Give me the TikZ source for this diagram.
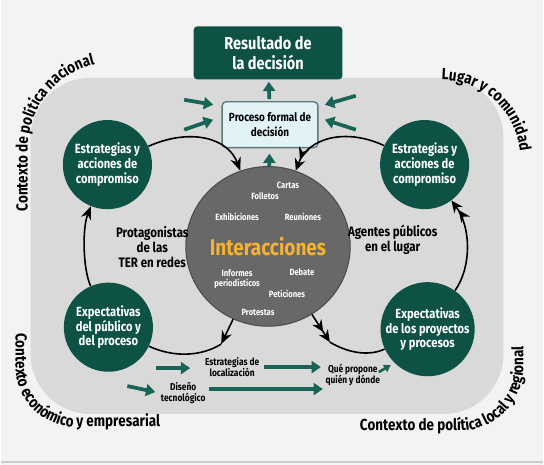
\documentclass[tikz,border=0pt]{standalone}
\usepackage{fontspec}
\setmainfont{Fira Sans}[FakeStretch=0.84]
\usetikzlibrary{arrows.meta,shapes.geometric,decorations.text}
\definecolor{darkteal}{RGB}{14,82,70}
\definecolor{arrteal}{RGB}{24,100,86}
\definecolor{bggray}{RGB}{243,243,243}
\definecolor{panelgray}{RGB}{217,217,217}
\definecolor{intergray}{RGB}{104,104,104}
\definecolor{procfill}{RGB}{226,243,247}
\definecolor{procline}{RGB}{95,122,118}
\definecolor{gold}{RGB}{243,178,52}
\tikzset{
  circ/.style={circle, fill=darkteal, text=white, minimum size=67pt, inner sep=0pt,
    align=center, font=\fontsize{10}{11}\selectfont\bfseries},
  blk/.style={line width=1.2pt, -{Stealth[length=10pt,width=8pt]}},
  blkdbl/.style={line width=1.2pt, -{Stealth[length=9pt,width=8pt]Stealth[length=9pt,width=8pt]}},
  tarr/.style={draw=arrteal, line width=2.8pt, -{Triangle[length=7pt,width=9pt]}},
  lbl/.style={align=center, font=\fontsize{10.3}{11.25}\selectfont\bfseries},
  smalltxt/.style={text=white, align=center, font=\fontsize{6.8}{7.6}\selectfont\bfseries},
  botlbl/.style={align=center, font=\fontsize{7.5}{8.5}\selectfont\bfseries},
  ctx/.style={decorate, decoration={text along path, text align=left,
    text={|\fontsize{12}{14}\selectfont\bfseries|#1}}}
}
\begin{document}
\begin{tikzpicture}[x=0.75pt,y=-0.75pt]
% background and panel
\fill[bggray] (0,0) rectangle (544,466);
\draw[black!20, line width=1pt] (0,463) -- (544,463);
\fill[panelgray, rounded corners=45pt] (30,78) rectangle (504,415);

% context labels round the panel
\path[ctx={Contexto de política nacional}] (27,212) -- (27,150) .. controls (27,101) and (66,62) .. (115,62);
\path[ctx={Lugar y comunidad}] (442,80) .. controls (486,80) and (521,116) .. (521,160);
\path[ctx={Contexto económico y empresarial}] (15,334) -- (15,368) .. controls (15,401) and (42,428) .. (75,428) -- (200,428);
\path[ctx={Contexto de política local y regional}] (360,432) -- (460,432) .. controls (495,432) and (524,403) .. (524,368) -- (524,300);

% decision boxes
\node[fill=darkteal, text=white, rounded corners=3pt, minimum width=112pt, minimum height=40pt,
  align=center, font=\fontsize{13}{15}\selectfont\bfseries] (res) at (268,53) {Resultado de\\la decisión};
\node[draw=procline, line width=1pt, fill=procfill, rounded corners=3pt, minimum width=72pt,
  minimum height=34.5pt, align=center, font=\fontsize{8.9}{11}\selectfont\bfseries] (proc) at (270,125) {Proceso formal de\\decisión};

% interactions
\node[ellipse, fill=intergray, draw=black!70, line width=0.8pt, minimum width=108pt, minimum height=120pt,
  inner sep=0pt, text=gold, font=\fontsize{17}{20}\selectfont\bfseries] (inter) at (268,247) {Interacciones};
\node[smalltxt] (cartas) at (288,186) {Cartas};
\node[smalltxt] (folletos) at (265,197) {Folletos};
\node[smalltxt] (exhib) at (237,217) {Exhibiciones};
\node[smalltxt] (reun) at (303,217) {Reuniones};
\node[smalltxt] (inform) at (237,280) {Informes\\periodísticos};
\node[smalltxt] (debate) at (302,273) {Debate};
\node[smalltxt] (petic) at (287,295) {Peticiones};
\node[smalltxt] (protes) at (258,313) {Protestas};

% actors
\node[circ] (etl) at (107,165) {Estrategias y\\acciones de\\compromiso};
\node[circ] (etr) at (425,165) {Estrategias y\\acciones de\\compromiso};
\node[circ] (ebl) at (108,328) {Expectativas\\del público y\\del proceso};
\node[circ] (ebr) at (428,330) {Expectativas\\de los proyectos\\y procesos};
\node[lbl] (prot) at (152,248) {Protagonistas\\de las\\TER en redes};
\node[lbl] (agen) at (393,240) {Agentes públicos\\en el lugar};

% siting
\node[botlbl] (loc) at (232,368) {Estrategias de\\localización};
\node[botlbl] (que) at (353,376) {Qué propone\\quién y dónde};
\node[botlbl] (dis) at (183,394) {Diseño\\tecnológico};

% teal arrows
\draw[tarr, shorten >=1.5pt, shorten <=1.5pt] (proc) -- (res);
\draw[tarr, shorten >=4pt] (inter) -- (proc);
\draw[tarr] (184,100) -- (213,105);
\draw[tarr] (184,130) -- (213,120);
\draw[tarr] (356,96) -- (325,105);
\draw[tarr] (356,130) -- (325,120);
\draw[tarr] (156,369) -- (190,369);
\draw[tarr] (loc.east) -- (loc.east -| que.west);
\draw[tarr] (127,387) -- (155,393);
\draw[tarr] (209,390) -- (323,390);
\draw[draw=arrteal, line width=2pt, -{Triangle[length=5pt,width=6pt]}] (379,373) -- (391,366);

% black cycle
\coordinate (m1) at (221,345);
\coordinate (m2) at (330,343);
\draw[blk] (etl) .. controls (190,128) and (228,138) .. (inter);
\draw[blkdbl] (etr) .. controls (346,128) and (308,138) .. (inter);
\draw[blk] (ebl) .. controls (82,268) and (82,228) .. (etl);
\draw[blkdbl] (ebr) .. controls (472,268) and (472,228) .. (etr);
\draw[blk] (inter) -- (m1);
\draw[line width=1.2pt] (m1) .. controls (200,358) and (172,358) .. (ebl);
\draw[blkdbl] (inter) -- (m2);
\draw[line width=1.2pt] (m2) .. controls (352,356) and (372,356) .. (ebr);
\end{tikzpicture}
\end{document}
